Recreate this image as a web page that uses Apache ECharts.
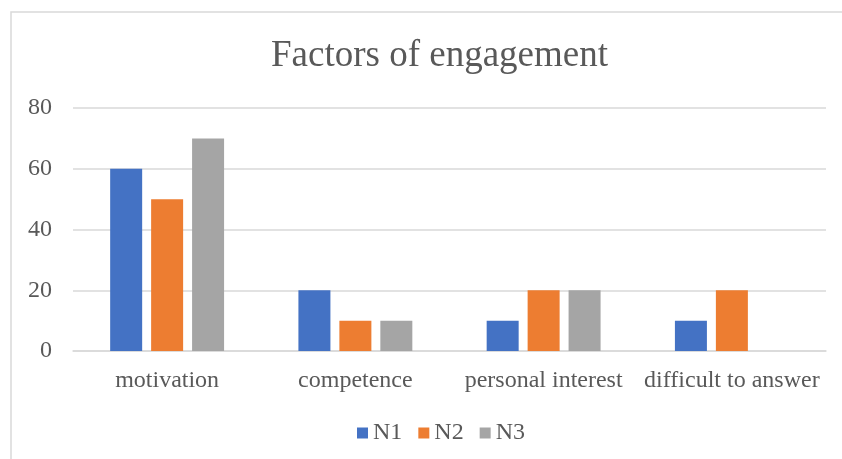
<!DOCTYPE html>
<html><head><meta charset="utf-8">
<script src="https://cdn.jsdelivr.net/npm/echarts@6/dist/echarts.min.js"></script>
<style>html,body{margin:0;padding:0;background:#fff}#c{width:842px;height:459px}</style>
</head><body><div id="c"></div>
<script>
const categories = ['motivation', 'competence', 'personal interest', 'difficult to answer'];
const n1 = [60, 20, 10, 10];
const n2 = [50, 10, 20, 20];
const n3 = [70, 10, 20, 0];
const yTicks = { min: 0, max: 80, interval: 20 };

const font = '"Liberation Serif", "Times New Roman", serif';
const chart = echarts.init(document.getElementById('c'));
const barStyle = c => ({ color: c });
chart.setOption({
  animation: false,
  graphic: [
    { type: 'rect', shape: { x: 11, y: 12, width: 1000, height: 600 }, style: { fill: 'none', stroke: '#d9d9d9', lineWidth: 1.5 } }
  ],
  title: { text: 'Factors of engagement', left: 266, top: 33, textStyle: { fontFamily: font, fontSize: 37, fontWeight: 'normal', color: '#595959' } },
  legend: { bottom: 9, left: 352, itemWidth: 11, itemHeight: 11, itemGap: 16, icon: 'rect', textStyle: { fontFamily: font, fontSize: 24, color: '#595959' } },
  grid: { left: 73, right: 16, top: 108, bottom: 108, containLabel: false },
  xAxis: { type: 'category', data: categories, axisTick: { show: false }, axisLine: { lineStyle: { color: '#d9d9d9', width: 1.5 } },
    axisLabel: { interval: 0, fontFamily: font, fontSize: 24, color: '#595959', margin: 18 } },
  yAxis: { type: 'value', min: yTicks.min, max: yTicks.max, interval: yTicks.interval, axisLine: { show: false }, axisTick: { show: false },
    splitLine: { lineStyle: { color: '#d9d9d9', width: 1.5 } }, axisLabel: { fontFamily: font, fontSize: 24, color: '#595959', margin: 21 } },
  series: [
    { name: 'N1', type: 'bar', data: n1, barWidth: 32, barGap: '28%', itemStyle: barStyle('#4472C4') },
    { name: 'N2', type: 'bar', data: n2, barWidth: 32, barGap: '28%', itemStyle: barStyle('#ED7D31') },
    { name: 'N3', type: 'bar', data: n3, barWidth: 32, barGap: '28%', itemStyle: barStyle('#A5A5A5') }
  ]
});
</script></body></html>
